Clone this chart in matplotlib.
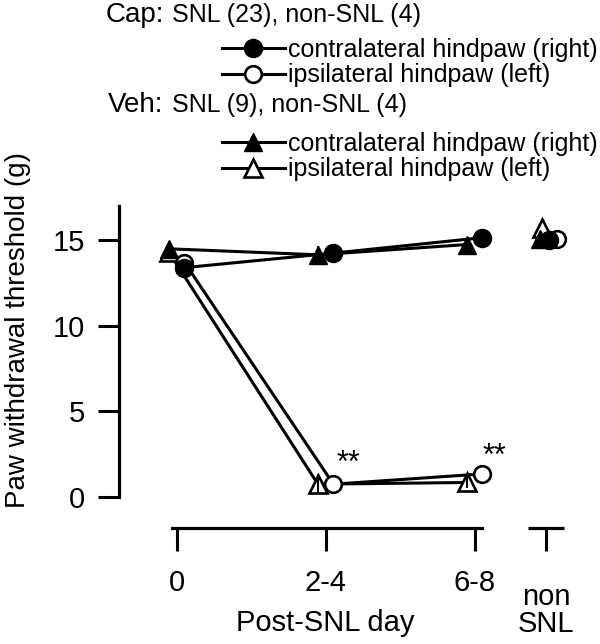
import numpy as np
import matplotlib
matplotlib.use("Agg")
import matplotlib.pyplot as plt

plt.rcParams["font.family"] = ["Liberation Sans", "DejaVu Sans"]

# =========================
# Data
# =========================
day_labels = ["0", "2-4", "6-8"]
nonsnl_label = "non\nSNL"

cap_contra = [13.4, 14.25, 15.15]
cap_ipsi = [13.7, 0.75, 1.35]
veh_contra = [14.5, 14.15, 14.75]
veh_ipsi = [14.3, 0.75, 0.85]
veh_contra_err = [0.3, 0.5, 0.3]
veh_ipsi_err = [0.3, 0.6, 0.3]

nonsnl_cap_contra = 15.0
nonsnl_cap_ipsi = 15.1
nonsnl_veh_contra = 15.05
nonsnl_veh_ipsi = 15.7

# =========================
# Layout
# =========================
day_pos = np.arange(len(day_labels))
nonsnl_pos = 2.48
off = 0.052
fs = 21

fig = plt.figure(figsize=(6.0, 6.44), dpi=100)
ax = fig.add_axes([0.198, 0.1801, 0.768, 0.5])

lw = 2.2
ms = 13
mew = 1.9

ax.plot(day_pos - off, veh_ipsi, color="black", lw=lw, marker="^", ms=ms,
        mfc="white", mec="black", mew=mew, zorder=3)
ax.errorbar(day_pos - off, veh_ipsi, yerr=veh_ipsi_err, fmt="none",
            ecolor="black", elinewidth=1.5, capsize=0, zorder=3.5)
ax.plot(day_pos + off, cap_ipsi, color="black", lw=lw, marker="o", ms=ms - 1,
        mfc="white", mec="black", mew=mew, zorder=3)
ax.plot(day_pos + off, cap_contra, color="black", lw=lw, marker="o", ms=ms,
        mfc="black", mec="black", zorder=4)
ax.plot(day_pos - off, veh_contra, color="black", lw=lw, marker="^", ms=ms,
        mfc="black", mec="black", zorder=5)
ax.errorbar(day_pos - off, veh_contra, yerr=veh_contra_err, fmt="none",
            ecolor="black", elinewidth=1.5, capsize=0, zorder=4.5)

# non-SNL group
ax.plot([nonsnl_pos - 0.03], [nonsnl_veh_ipsi], marker="^", ms=ms, mfc="white",
        mec="black", mew=mew, ls="none", zorder=3)
ax.plot([nonsnl_pos + 0.07], [nonsnl_cap_ipsi], marker="o", ms=ms - 1, mfc="white",
        mec="black", mew=mew, ls="none", zorder=3)
ax.plot([nonsnl_pos + 0.02], [nonsnl_cap_contra], marker="o", ms=ms, mfc="black",
        mec="black", ls="none", zorder=4)
ax.plot([nonsnl_pos - 0.04], [nonsnl_veh_contra], marker="^", ms=ms, mfc="black",
        mec="black", ls="none", zorder=5)

# significance marks
ax.text(1.15, 1.45, "**", fontsize=22, ha="center", va="baseline")
ax.text(2.13, 1.85, "**", fontsize=22, ha="center", va="baseline")

# =========================
# Axes styling
# =========================
ax.set_xlim(-0.389, 2.705)
ax.set_ylim(-1.81, 17)
for s in ["top", "right"]:
    ax.spines[s].set_visible(False)
ax.spines["left"].set_bounds(0, 17)
ax.spines["left"].set_linewidth(2.3)
ax.spines["bottom"].set_bounds(-0.035, 2.05)
ax.spines["bottom"].set_linewidth(2.3)
ax.plot([2.36, 2.60], [0, 0], color="black", lw=2.3, solid_capstyle="butt",
        transform=ax.get_xaxis_transform(), clip_on=False)

ax.set_yticks([0, 5, 10, 15])
ax.set_xticks(list(day_pos) + [nonsnl_pos])
ax.set_xticklabels(day_labels + [nonsnl_label], linespacing=0.95)
ax.tick_params(axis="y", direction="out", length=15, width=2.2, pad=9, labelsize=fs)
ax.tick_params(axis="x", direction="out", length=16.5, width=2.2, pad=13, labelsize=fs)
ax.xaxis.get_major_ticks()[-1].set_pad(23)

ax.set_ylabel("Paw withdrawal threshold (g)", fontsize=20)
ax.yaxis.set_label_coords(-0.19, 0.615)
ax.set_xlabel("Post-SNL day", fontsize=fs)
ax.xaxis.set_label_coords((1 - (-0.389)) / (2.705 + 0.389), -0.25)

# =========================
# Legend
# =========================
h = ax.get_lines()
fig.text(106 / 600, 1 - 22 / 644, "Cap:", fontsize=20, va="baseline")
fig.text(172 / 600, 1 - 22 / 644, "SNL (23), non-SNL (4)", fontsize=18, va="baseline")
fig.text(108 / 600, 1 - 112 / 644, "Veh:", fontsize=20, va="baseline")
fig.text(172 / 600, 1 - 112 / 644, "SNL (9), non-SNL (4)", fontsize=18, va="baseline")

leg_kw = dict(frameon=False, fontsize=18, numpoints=1, handlelength=2.5,
              handletextpad=0.12, labelspacing=0.05, borderpad=0, borderaxespad=0,
              loc="upper left")
leg1 = fig.legend([h[2], h[1]], ["contralateral hindpaw (right)", "ipsilateral hindpaw (left)"],
                  bbox_to_anchor=(222 / 600, 1 - 38 / 644), **leg_kw)
leg2 = fig.legend([h[3], h[0]], ["contralateral hindpaw (right)", "ipsilateral hindpaw (left)"],
                  bbox_to_anchor=(222 / 600, 1 - 132 / 644), **leg_kw)

fig.savefig("out.png", dpi=100)
